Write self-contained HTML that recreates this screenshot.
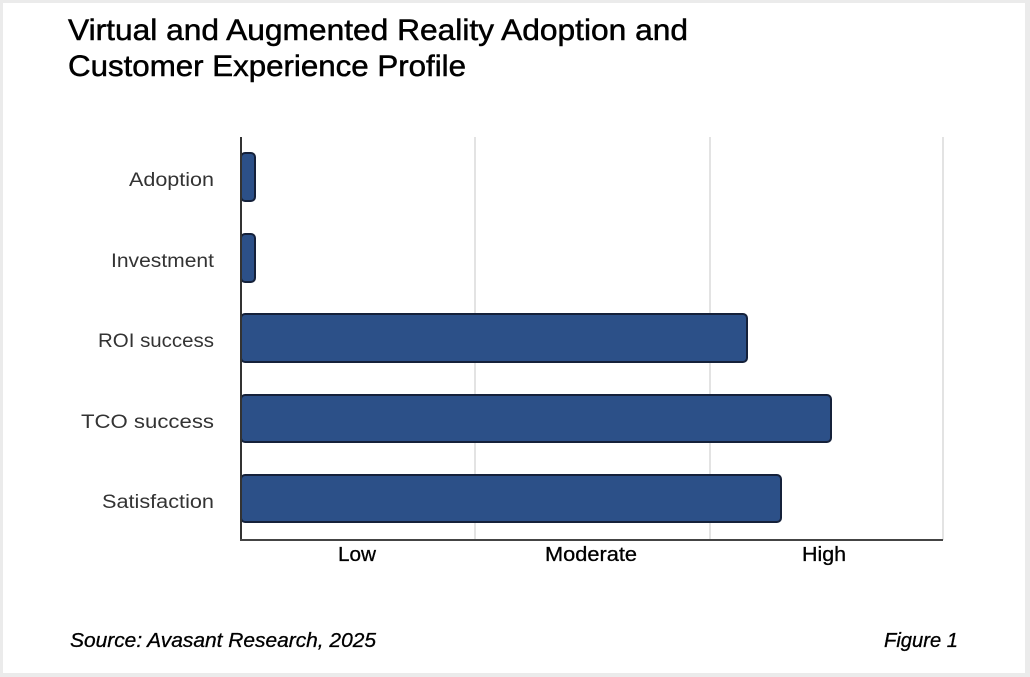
<!DOCTYPE html>
<html><head><meta charset="utf-8"><style>
html,body{margin:0;padding:0;background:#ececec;}
svg{display:block;}
</style></head><body>
<svg width="1030" height="677" viewBox="0 0 1030 677" xmlns="http://www.w3.org/2000/svg">
<rect x="0" y="0" width="1030" height="677" fill="#ebebeb"/>
<rect x="3" y="3" width="1022" height="670" fill="#ffffff"/>
<g font-family="Liberation Sans, sans-serif" fill="#000" stroke="#000" stroke-width="0.5">
<text x="68" y="40" font-size="30" textLength="620" lengthAdjust="spacingAndGlyphs">Virtual and Augmented Reality Adoption and</text>
<text x="68" y="76" font-size="30" textLength="398" lengthAdjust="spacingAndGlyphs">Customer Experience Profile</text>
</g>
<g stroke="#e3e3e3" stroke-width="2">
<line x1="475" y1="137" x2="475" y2="540"/>
<line x1="710" y1="137" x2="710" y2="540"/>
<line x1="943" y1="137" x2="943" y2="540"/>
</g>
<g fill="#2c5088" stroke="#15213a" stroke-width="2">
<rect x="241" y="153" width="14" height="48" rx="4"/>
<rect x="241" y="234" width="14" height="48" rx="4"/>
<rect x="241" y="314" width="506" height="48" rx="4"/>
<rect x="241" y="395" width="590" height="47" rx="4"/>
<rect x="241" y="475" width="540" height="47" rx="4"/>
</g>
<line x1="241" y1="137" x2="241" y2="541" stroke="#333" stroke-width="2"/>
<line x1="240" y1="540" x2="943" y2="540" stroke="#444" stroke-width="2"/>
<g font-family="Liberation Sans, sans-serif" font-size="19" fill="#333" text-anchor="end">
<text x="214" y="186" textLength="85" lengthAdjust="spacingAndGlyphs">Adoption</text>
<text x="214" y="267" textLength="103" lengthAdjust="spacingAndGlyphs">Investment</text>
<text x="214" y="347" textLength="116" lengthAdjust="spacingAndGlyphs">ROI success</text>
<text x="214" y="428" textLength="133" lengthAdjust="spacingAndGlyphs">TCO success</text>
<text x="214" y="508" textLength="112" lengthAdjust="spacingAndGlyphs">Satisfaction</text>
</g>
<g font-family="Liberation Sans, sans-serif" font-size="20" fill="#000" stroke="#000" stroke-width="0.3">
<text x="338" y="561" textLength="38" lengthAdjust="spacingAndGlyphs">Low</text>
<text x="545" y="561" textLength="92" lengthAdjust="spacingAndGlyphs">Moderate</text>
<text x="802" y="561" textLength="44" lengthAdjust="spacingAndGlyphs">High</text>
</g>
<g font-family="Liberation Sans, sans-serif" font-size="20" font-style="italic" fill="#000" stroke="#000" stroke-width="0.3">
<text x="70" y="647" textLength="306" lengthAdjust="spacingAndGlyphs">Source: Avasant Research, 2025</text>
<text x="884" y="647" textLength="74" lengthAdjust="spacingAndGlyphs">Figure 1</text>
</g>
</svg>
</body></html>
